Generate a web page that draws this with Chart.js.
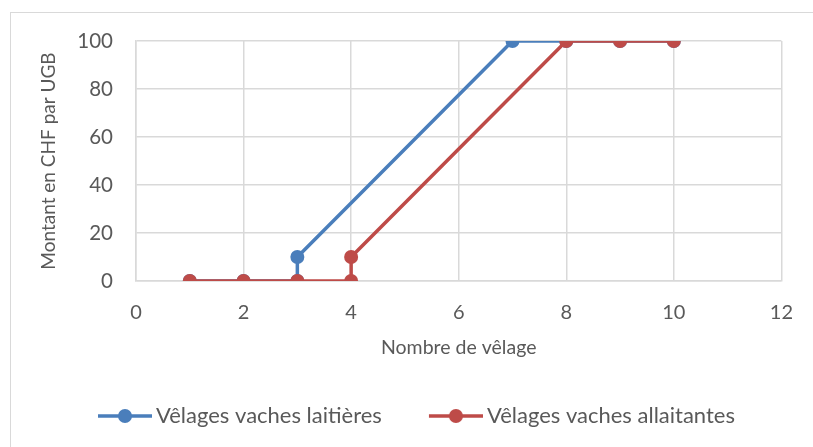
<!DOCTYPE html>
<html>
<head>
<meta charset="utf-8">
<script src="https://cdn.jsdelivr.net/npm/chart.js@4"></script>
<style>
  html, body { margin: 0; padding: 0; background: #fff; overflow: hidden; }
  #frame { position: absolute; left: 10px; top: 12px; width: 900px; height: 500px; border: 1.5px solid #d9d9d9; }
  #wrap { position: absolute; left: 0; top: 0; width: 813px; height: 447px; }
</style>
</head>
<body>
<div id="frame"></div>
<div id="wrap"><canvas id="chart" width="813" height="447"></canvas></div>
<script>
// data
const laitieresX = [1, 2, 3, 3, 7, 8, 9, 10];
const laitieresY = [0, 0, 0, 10, 100, 100, 100, 100];
const allaitantesX = [1, 2, 3, 4, 4, 8, 9, 10];
const allaitantesY = [0, 0, 0, 0, 10, 100, 100, 100];
const seriesNames = ['Vêlages vaches laitières', 'Vêlages vaches allaitantes'];
const xTicks = [0, 2, 4, 6, 8, 10, 12];
const yTicks = [0, 20, 40, 60, 80, 100];

const blue = '#4a7ebb';
const red = '#be4b48';
const textColor = '#595959';
const gridColor = '#d9d9d9';
const fontFamily = 'Lato, "Open Sans", sans-serif';

function toPoints(xs, ys) {
  return xs.map(function (x, i) { return {x: x, y: ys[i]}; });
}

// legend marker: a line with a dot, placed inside a wide legend box
const boxW = 86;
const lineStart = 39;   // from the left of the legend item
const lineLen = 54;
function legendMarker(color) {
  const half = lineStart + lineLen - boxW / 2;
  const c = document.createElement('canvas');
  c.width = Math.ceil(half * 2);
  c.height = 16;
  const g = c.getContext('2d');
  const x0 = c.width / 2 - boxW / 2 + lineStart;
  g.strokeStyle = color;
  g.lineWidth = 3.5;
  g.beginPath();
  g.moveTo(x0, 8);
  g.lineTo(x0 + lineLen, 8);
  g.stroke();
  g.fillStyle = color;
  g.beginPath();
  g.arc(x0 + lineLen / 2, 8, 7, 0, Math.PI * 2);
  g.fill();
  return c;
}
const markers = [legendMarker(blue), legendMarker(red)];

const data = {
  datasets: [
    {
      label: seriesNames[0],
      data: toPoints(laitieresX, laitieresY),
      borderColor: blue,
      backgroundColor: blue,
      borderWidth: 3.5,
      pointRadius: 7,
      pointHoverRadius: 7,
      pointBorderWidth: 0,
      showLine: true,
      order: 2
    },
    {
      label: seriesNames[1],
      data: toPoints(allaitantesX, allaitantesY),
      borderColor: red,
      backgroundColor: red,
      borderWidth: 3.5,
      pointRadius: 7,
      pointHoverRadius: 7,
      pointBorderWidth: 0,
      showLine: true,
      order: 1
    }
  ]
};

const config = {
  type: 'scatter',
  data: data,
  options: {
    responsive: false,
    animation: false,
    layout: {
      padding: {left: 51, right: 30, top: 41, bottom: 10}
    },
    scales: {
      x: {
        type: 'linear',
        min: 0,
        max: 12,
        afterBuildTicks: function (axis) {
          axis.ticks = xTicks.map(function (v) { return {value: v}; });
        },
        afterFit: function (axis) { axis.height = 116; },
        grid: { color: gridColor, lineWidth: 1.5, drawTicks: false },
        border: { color: gridColor, width: 1.5 },
        ticks: { color: textColor, padding: 20, autoSkip: false, maxRotation: 0, font: { family: fontFamily, size: 20 } },
        title: {
          display: true,
          text: 'Nombre de vêlage',
          color: textColor,
          font: { family: fontFamily, size: 19.5 },
          padding: { top: 0, bottom: 38 }
        }
      },
      y: {
        type: 'linear',
        min: 0,
        max: 100,
        afterBuildTicks: function (axis) {
          axis.ticks = yTicks.map(function (v) { return {value: v}; });
        },
        afterFit: function (axis) { axis.width = 85; },
        grid: { color: gridColor, lineWidth: 1.5, drawTicks: false },
        border: { color: gridColor, width: 1.5 },
        ticks: { color: textColor, padding: 23, autoSkip: false, font: { family: fontFamily, size: 20.5 } },
        title: {
          display: true,
          text: 'Montant en CHF par UGB',
          color: textColor,
          font: { family: fontFamily, size: 19 },
          padding: { top: -14, bottom: 0 }
        }
      }
    },
    plugins: {
      legend: {
        display: true,
        position: 'bottom',
        align: 'start',
        labels: {
          color: textColor,
          font: { family: fontFamily, size: 22 },
          usePointStyle: true,
          pointStyleWidth: boxW,
          padding: 8,
          generateLabels: function (chart) {
            const items = Chart.defaults.plugins.legend.labels.generateLabels(chart);
            items.sort(function (a, b) { return a.datasetIndex - b.datasetIndex; });
            items.forEach(function (item) { item.pointStyle = markers[item.datasetIndex]; });
            return items;
          }
        }
      },
      tooltip: { enabled: false }
    }
  }
};

var myChart = new Chart(document.getElementById('chart'), config);
</script>
</body>
</html>
